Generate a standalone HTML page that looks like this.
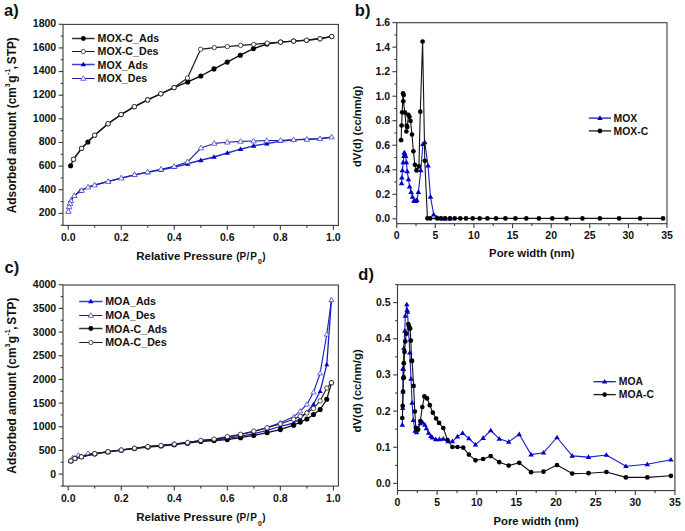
<!DOCTYPE html>
<html><head><meta charset="utf-8"><title>Figure</title>
<style>
html,body{margin:0;padding:0;background:#fff;width:685px;height:531px;overflow:hidden}
svg{display:block}
svg text{font-family:"Liberation Sans", sans-serif;font-weight:bold;fill:#111}
</style></head><body>
<svg width="685" height="531" viewBox="0 0 685 531">
<rect width="685" height="531" fill="#fff"/>
<rect x="63" y="24.4" width="275.4" height="201" fill="none" stroke="#3a3a3a" stroke-width="1.1"/>
<line x1="68.2" y1="225.4" x2="68.2" y2="229.7" stroke="#3a3a3a" stroke-width="1.1"/>
<line x1="121.24" y1="225.4" x2="121.24" y2="229.7" stroke="#3a3a3a" stroke-width="1.1"/>
<line x1="174.28" y1="225.4" x2="174.28" y2="229.7" stroke="#3a3a3a" stroke-width="1.1"/>
<line x1="227.32" y1="225.4" x2="227.32" y2="229.7" stroke="#3a3a3a" stroke-width="1.1"/>
<line x1="280.36" y1="225.4" x2="280.36" y2="229.7" stroke="#3a3a3a" stroke-width="1.1"/>
<line x1="333.4" y1="225.4" x2="333.4" y2="229.7" stroke="#3a3a3a" stroke-width="1.1"/>
<line x1="94.72" y1="225.4" x2="94.72" y2="227.7" stroke="#3a3a3a" stroke-width="1.1"/>
<line x1="147.76" y1="225.4" x2="147.76" y2="227.7" stroke="#3a3a3a" stroke-width="1.1"/>
<line x1="200.8" y1="225.4" x2="200.8" y2="227.7" stroke="#3a3a3a" stroke-width="1.1"/>
<line x1="253.84" y1="225.4" x2="253.84" y2="227.7" stroke="#3a3a3a" stroke-width="1.1"/>
<line x1="306.88" y1="225.4" x2="306.88" y2="227.7" stroke="#3a3a3a" stroke-width="1.1"/>
<line x1="58.7" y1="213.4" x2="63" y2="213.4" stroke="#3a3a3a" stroke-width="1.1"/>
<line x1="58.7" y1="189.76" x2="63" y2="189.76" stroke="#3a3a3a" stroke-width="1.1"/>
<line x1="58.7" y1="166.12" x2="63" y2="166.12" stroke="#3a3a3a" stroke-width="1.1"/>
<line x1="58.7" y1="142.49" x2="63" y2="142.49" stroke="#3a3a3a" stroke-width="1.1"/>
<line x1="58.7" y1="118.85" x2="63" y2="118.85" stroke="#3a3a3a" stroke-width="1.1"/>
<line x1="58.7" y1="95.21" x2="63" y2="95.21" stroke="#3a3a3a" stroke-width="1.1"/>
<line x1="58.7" y1="71.57" x2="63" y2="71.57" stroke="#3a3a3a" stroke-width="1.1"/>
<line x1="58.7" y1="47.93" x2="63" y2="47.93" stroke="#3a3a3a" stroke-width="1.1"/>
<line x1="58.7" y1="24.3" x2="63" y2="24.3" stroke="#3a3a3a" stroke-width="1.1"/>
<line x1="60.7" y1="225.22" x2="63" y2="225.22" stroke="#3a3a3a" stroke-width="1.1"/>
<line x1="60.7" y1="201.58" x2="63" y2="201.58" stroke="#3a3a3a" stroke-width="1.1"/>
<line x1="60.7" y1="177.94" x2="63" y2="177.94" stroke="#3a3a3a" stroke-width="1.1"/>
<line x1="60.7" y1="154.31" x2="63" y2="154.31" stroke="#3a3a3a" stroke-width="1.1"/>
<line x1="60.7" y1="130.67" x2="63" y2="130.67" stroke="#3a3a3a" stroke-width="1.1"/>
<line x1="60.7" y1="107.03" x2="63" y2="107.03" stroke="#3a3a3a" stroke-width="1.1"/>
<line x1="60.7" y1="83.39" x2="63" y2="83.39" stroke="#3a3a3a" stroke-width="1.1"/>
<line x1="60.7" y1="59.75" x2="63" y2="59.75" stroke="#3a3a3a" stroke-width="1.1"/>
<line x1="60.7" y1="36.12" x2="63" y2="36.12" stroke="#3a3a3a" stroke-width="1.1"/>
<text x="68.2" y="240.7" font-size="10.5" text-anchor="middle" >0.0</text>
<text x="121.24" y="240.7" font-size="10.5" text-anchor="middle" >0.2</text>
<text x="174.28" y="240.7" font-size="10.5" text-anchor="middle" >0.4</text>
<text x="227.32" y="240.7" font-size="10.5" text-anchor="middle" >0.6</text>
<text x="280.36" y="240.7" font-size="10.5" text-anchor="middle" >0.8</text>
<text x="333.4" y="240.7" font-size="10.5" text-anchor="middle" >1.0</text>
<text x="56.2" y="216.2" font-size="10.5" text-anchor="end" >200</text>
<text x="56.2" y="192.56" font-size="10.5" text-anchor="end" >400</text>
<text x="56.2" y="168.92" font-size="10.5" text-anchor="end" >600</text>
<text x="56.2" y="145.29" font-size="10.5" text-anchor="end" >800</text>
<text x="56.2" y="121.65" font-size="10.5" text-anchor="end" >1000</text>
<text x="56.2" y="98.01" font-size="10.5" text-anchor="end" >1200</text>
<text x="56.2" y="74.37" font-size="10.5" text-anchor="end" >1400</text>
<text x="56.2" y="50.73" font-size="10.5" text-anchor="end" >1600</text>
<text x="56.2" y="27.1" font-size="10.5" text-anchor="end" >1800</text>
<g>
<polyline points="68.4,211.4 69.2,206.9 70,203.5 70.9,200.7 74.3,195.6 80,191.2 81.6,190.4 88,187.2 94.6,185 108.3,181.4 121.5,178.1 134.5,174.9 147.7,172.4 161,169.8 174.2,167.2 187.6,163.8 200.8,160.3 214,157 227.3,153 240.5,149.2 253.6,145.9 266.8,143.6 280.3,141.2 293.6,139.9 306.8,139.3 320,138.8 331.7,137.1" fill="none" stroke="#2a2ac8" stroke-width="1.4" stroke-linejoin="round"/>
<polygon points="68.4,208.59 71.15,213.27 65.65,213.27" fill="#0000c8"/>
<polygon points="69.2,204.09 71.95,208.77 66.45,208.77" fill="#0000c8"/>
<polygon points="70,200.69 72.75,205.37 67.25,205.37" fill="#0000c8"/>
<polygon points="70.9,197.89 73.65,202.57 68.15,202.57" fill="#0000c8"/>
<polygon points="74.3,192.79 77.05,197.47 71.55,197.47" fill="#0000c8"/>
<polygon points="80,188.39 82.75,193.07 77.25,193.07" fill="#0000c8"/>
<polygon points="81.6,187.59 84.35,192.27 78.85,192.27" fill="#0000c8"/>
<polygon points="88,184.39 90.75,189.07 85.25,189.07" fill="#0000c8"/>
<polygon points="94.6,182.19 97.35,186.87 91.85,186.87" fill="#0000c8"/>
<polygon points="108.3,178.59 111.05,183.27 105.55,183.27" fill="#0000c8"/>
<polygon points="121.5,175.29 124.25,179.97 118.75,179.97" fill="#0000c8"/>
<polygon points="134.5,172.09 137.25,176.77 131.75,176.77" fill="#0000c8"/>
<polygon points="147.7,169.59 150.45,174.27 144.95,174.27" fill="#0000c8"/>
<polygon points="161,167 163.75,171.67 158.25,171.67" fill="#0000c8"/>
<polygon points="174.2,164.39 176.95,169.07 171.45,169.07" fill="#0000c8"/>
<polygon points="187.6,161 190.35,165.67 184.85,165.67" fill="#0000c8"/>
<polygon points="200.8,157.5 203.55,162.17 198.05,162.17" fill="#0000c8"/>
<polygon points="214,154.19 216.75,158.87 211.25,158.87" fill="#0000c8"/>
<polygon points="227.3,150.19 230.05,154.87 224.55,154.87" fill="#0000c8"/>
<polygon points="240.5,146.39 243.25,151.07 237.75,151.07" fill="#0000c8"/>
<polygon points="253.6,143.09 256.35,147.77 250.85,147.77" fill="#0000c8"/>
<polygon points="266.8,140.79 269.55,145.47 264.05,145.47" fill="#0000c8"/>
<polygon points="280.3,138.39 283.05,143.07 277.55,143.07" fill="#0000c8"/>
<polygon points="293.6,137.09 296.35,141.77 290.85,141.77" fill="#0000c8"/>
<polygon points="306.8,136.5 309.55,141.17 304.05,141.17" fill="#0000c8"/>
<polygon points="320,136 322.75,140.67 317.25,140.67" fill="#0000c8"/>
<polygon points="331.7,134.29 334.45,138.97 328.95,138.97" fill="#0000c8"/>
<polyline points="331.7,137.1 320,138.8 306.9,139.3 293.6,139.7 280.5,140.4 266.8,140.6 253.6,141 240.5,141.4 227.3,142.2 214.2,143.4 201,148 187.6,161.8 174.2,166.4 161,169.2 147.7,172 134.5,174.7 121.2,178.1 108.2,181.5 94.6,185.1 88,187.1 81.6,190.5 74.3,195.6 70.9,200.7 70,203.5 69.2,206.9 68.4,211.4" fill="none" stroke="#2020b0" stroke-width="1.1" stroke-linejoin="round"/>
<polygon points="331.7,134.29 334.45,138.97 328.95,138.97" fill="#fff" stroke="#4a4ad0" stroke-width="0.8"/>
<polygon points="320,136 322.75,140.67 317.25,140.67" fill="#fff" stroke="#4a4ad0" stroke-width="0.8"/>
<polygon points="306.9,136.5 309.65,141.17 304.15,141.17" fill="#fff" stroke="#4a4ad0" stroke-width="0.8"/>
<polygon points="293.6,136.89 296.35,141.57 290.85,141.57" fill="#fff" stroke="#4a4ad0" stroke-width="0.8"/>
<polygon points="280.5,137.59 283.25,142.27 277.75,142.27" fill="#fff" stroke="#4a4ad0" stroke-width="0.8"/>
<polygon points="266.8,137.79 269.55,142.47 264.05,142.47" fill="#fff" stroke="#4a4ad0" stroke-width="0.8"/>
<polygon points="253.6,138.19 256.35,142.87 250.85,142.87" fill="#fff" stroke="#4a4ad0" stroke-width="0.8"/>
<polygon points="240.5,138.59 243.25,143.27 237.75,143.27" fill="#fff" stroke="#4a4ad0" stroke-width="0.8"/>
<polygon points="227.3,139.39 230.05,144.07 224.55,144.07" fill="#fff" stroke="#4a4ad0" stroke-width="0.8"/>
<polygon points="214.2,140.59 216.95,145.27 211.45,145.27" fill="#fff" stroke="#4a4ad0" stroke-width="0.8"/>
<polygon points="201,145.19 203.75,149.87 198.25,149.87" fill="#fff" stroke="#4a4ad0" stroke-width="0.8"/>
<polygon points="187.6,159 190.35,163.67 184.85,163.67" fill="#fff" stroke="#4a4ad0" stroke-width="0.8"/>
<polygon points="174.2,163.59 176.95,168.27 171.45,168.27" fill="#fff" stroke="#4a4ad0" stroke-width="0.8"/>
<polygon points="161,166.39 163.75,171.07 158.25,171.07" fill="#fff" stroke="#4a4ad0" stroke-width="0.8"/>
<polygon points="147.7,169.19 150.45,173.87 144.95,173.87" fill="#fff" stroke="#4a4ad0" stroke-width="0.8"/>
<polygon points="134.5,171.89 137.25,176.57 131.75,176.57" fill="#fff" stroke="#4a4ad0" stroke-width="0.8"/>
<polygon points="121.2,175.29 123.95,179.97 118.45,179.97" fill="#fff" stroke="#4a4ad0" stroke-width="0.8"/>
<polygon points="108.2,178.69 110.95,183.37 105.45,183.37" fill="#fff" stroke="#4a4ad0" stroke-width="0.8"/>
<polygon points="94.6,182.29 97.35,186.97 91.85,186.97" fill="#fff" stroke="#4a4ad0" stroke-width="0.8"/>
<polygon points="88,184.29 90.75,188.97 85.25,188.97" fill="#fff" stroke="#4a4ad0" stroke-width="0.8"/>
<polygon points="81.6,187.69 84.35,192.37 78.85,192.37" fill="#fff" stroke="#4a4ad0" stroke-width="0.8"/>
<polygon points="74.3,192.79 77.05,197.47 71.55,197.47" fill="#fff" stroke="#4a4ad0" stroke-width="0.8"/>
<polygon points="70.9,197.89 73.65,202.57 68.15,202.57" fill="#fff" stroke="#4a4ad0" stroke-width="0.8"/>
<polygon points="70,200.69 72.75,205.37 67.25,205.37" fill="#fff" stroke="#4a4ad0" stroke-width="0.8"/>
<polygon points="69.2,204.09 71.95,208.77 66.45,208.77" fill="#fff" stroke="#4a4ad0" stroke-width="0.8"/>
<polygon points="68.4,208.59 71.15,213.27 65.65,213.27" fill="#fff" stroke="#4a4ad0" stroke-width="0.8"/>
<polyline points="70.6,165.7 73.5,159.3 81.5,148.4 87.9,142 94.6,135.3 108,123.7 121.1,114.6 134.3,106.7 147.6,99.9 160.9,93.7 174.1,87.6 187.7,81.9 200.8,76 214,68.9 227.2,62.1 240.3,55.2 253.5,48.6 266.9,44 280.5,42.1 293.6,41.1 306.7,40.2 320,38.7 331.7,36.5" fill="none" stroke="#111" stroke-width="1.4" stroke-linejoin="round"/>
<circle cx="70.6" cy="165.7" r="2.55" fill="#000"/>
<circle cx="73.5" cy="159.3" r="2.55" fill="#000"/>
<circle cx="81.5" cy="148.4" r="2.55" fill="#000"/>
<circle cx="87.9" cy="142" r="2.55" fill="#000"/>
<circle cx="94.6" cy="135.3" r="2.55" fill="#000"/>
<circle cx="108" cy="123.7" r="2.55" fill="#000"/>
<circle cx="121.1" cy="114.6" r="2.55" fill="#000"/>
<circle cx="134.3" cy="106.7" r="2.55" fill="#000"/>
<circle cx="147.6" cy="99.9" r="2.55" fill="#000"/>
<circle cx="160.9" cy="93.7" r="2.55" fill="#000"/>
<circle cx="174.1" cy="87.6" r="2.55" fill="#000"/>
<circle cx="187.7" cy="81.9" r="2.55" fill="#000"/>
<circle cx="200.8" cy="76" r="2.55" fill="#000"/>
<circle cx="214" cy="68.9" r="2.55" fill="#000"/>
<circle cx="227.2" cy="62.1" r="2.55" fill="#000"/>
<circle cx="240.3" cy="55.2" r="2.55" fill="#000"/>
<circle cx="253.5" cy="48.6" r="2.55" fill="#000"/>
<circle cx="266.9" cy="44" r="2.55" fill="#000"/>
<circle cx="280.5" cy="42.1" r="2.55" fill="#000"/>
<circle cx="293.6" cy="41.1" r="2.55" fill="#000"/>
<circle cx="306.7" cy="40.2" r="2.55" fill="#000"/>
<circle cx="320" cy="38.7" r="2.55" fill="#000"/>
<circle cx="331.7" cy="36.5" r="2.55" fill="#000"/>
<polyline points="331.7,36.5 320,38.7 306.6,40.2 293.6,41.1 280.5,42.1 267.1,43.1 253.7,44.4 240.6,45.4 227.4,46.6 214.3,47.6 200.6,49.3 187.5,78 174.1,87.6 160.9,93.8 147.7,99.9 134.4,106.7 121.1,114.5 108.1,123.8 94.6,135.2 81.6,148.4 73.5,159.3" fill="none" stroke="#1a1a1a" stroke-width="1.2" stroke-linejoin="round"/>
<circle cx="331.7" cy="36.5" r="2.1999999999999997" fill="#fff" stroke="#222" stroke-width="0.8"/>
<circle cx="320" cy="38.7" r="2.1999999999999997" fill="#fff" stroke="#222" stroke-width="0.8"/>
<circle cx="306.6" cy="40.2" r="2.1999999999999997" fill="#fff" stroke="#222" stroke-width="0.8"/>
<circle cx="293.6" cy="41.1" r="2.1999999999999997" fill="#fff" stroke="#222" stroke-width="0.8"/>
<circle cx="280.5" cy="42.1" r="2.1999999999999997" fill="#fff" stroke="#222" stroke-width="0.8"/>
<circle cx="267.1" cy="43.1" r="2.1999999999999997" fill="#fff" stroke="#222" stroke-width="0.8"/>
<circle cx="253.7" cy="44.4" r="2.1999999999999997" fill="#fff" stroke="#222" stroke-width="0.8"/>
<circle cx="240.6" cy="45.4" r="2.1999999999999997" fill="#fff" stroke="#222" stroke-width="0.8"/>
<circle cx="227.4" cy="46.6" r="2.1999999999999997" fill="#fff" stroke="#222" stroke-width="0.8"/>
<circle cx="214.3" cy="47.6" r="2.1999999999999997" fill="#fff" stroke="#222" stroke-width="0.8"/>
<circle cx="200.6" cy="49.3" r="2.1999999999999997" fill="#fff" stroke="#222" stroke-width="0.8"/>
<circle cx="187.5" cy="78" r="2.1999999999999997" fill="#fff" stroke="#222" stroke-width="0.8"/>
<circle cx="174.1" cy="87.6" r="2.1999999999999997" fill="#fff" stroke="#222" stroke-width="0.8"/>
<circle cx="160.9" cy="93.8" r="2.1999999999999997" fill="#fff" stroke="#222" stroke-width="0.8"/>
<circle cx="147.7" cy="99.9" r="2.1999999999999997" fill="#fff" stroke="#222" stroke-width="0.8"/>
<circle cx="134.4" cy="106.7" r="2.1999999999999997" fill="#fff" stroke="#222" stroke-width="0.8"/>
<circle cx="121.1" cy="114.5" r="2.1999999999999997" fill="#fff" stroke="#222" stroke-width="0.8"/>
<circle cx="108.1" cy="123.8" r="2.1999999999999997" fill="#fff" stroke="#222" stroke-width="0.8"/>
<circle cx="94.6" cy="135.2" r="2.1999999999999997" fill="#fff" stroke="#222" stroke-width="0.8"/>
<circle cx="81.6" cy="148.4" r="2.1999999999999997" fill="#fff" stroke="#222" stroke-width="0.8"/>
<circle cx="73.5" cy="159.3" r="2.1999999999999997" fill="#fff" stroke="#222" stroke-width="0.8"/>
</g>
<line x1="72.1" y1="38.5" x2="94.6" y2="38.5" stroke="#333" stroke-width="1.5"/>
<circle cx="83.35" cy="38.5" r="2.45" fill="#000"/>
<text x="97.6" y="41.9" font-size="10.65" text-anchor="start" >MOX-C_Ads</text>
<line x1="72.1" y1="51.5" x2="94.6" y2="51.5" stroke="#1a1a1a" stroke-width="1.0"/>
<circle cx="83.35" cy="51.5" r="2.1" fill="#fff" stroke="#222" stroke-width="0.8"/>
<text x="97.6" y="55.1" font-size="10.65" text-anchor="start" >MOX-C_Des</text>
<line x1="72.1" y1="64.5" x2="94.6" y2="64.5" stroke="#3c3cd0" stroke-width="1.5"/>
<polygon points="83.35,61.75 86.05,66.34 80.65,66.34" fill="#0000c8"/>
<text x="97.6" y="68.6" font-size="10.65" text-anchor="start" >MOX_Ads</text>
<line x1="72.1" y1="78.5" x2="94.6" y2="78.5" stroke="#1c1c98" stroke-width="1.0"/>
<polygon points="83.35,75.75 86.05,80.34 80.65,80.34" fill="#fff" stroke="#4a4ad0" stroke-width="0.8"/>
<text x="97.6" y="81.8" font-size="10.65" text-anchor="start" >MOX_Des</text>
<text y="259.7" font-size="11.5"><tspan x="136.2">Relative Pressure</tspan><tspan x="236.3" font-size="10">(</tspan><tspan x="239.4" font-size="10">P</tspan><tspan x="246.4" font-size="10">/</tspan><tspan x="250.3" font-size="10">P</tspan><tspan x="257.9" font-size="7" dy="4.6">0</tspan><tspan x="262.3" font-size="10" dy="-4.6">)</tspan></text>
<text transform="translate(15.6,213.3) rotate(-90)" font-size="11.9"><tspan x="0">Adsorbed amount (cm</tspan><tspan x="126.1" font-size="7" dy="-5.4">3</tspan><tspan x="130.5" dy="5.4">g</tspan><tspan x="138.2" font-size="7" dy="-5.4">-1</tspan><tspan x="144" dy="5.4">,</tspan><tspan x="149">STP)</tspan></text>
<text x="4" y="15.8" font-size="16.5" text-anchor="start" >a)</text>
<rect x="396.7" y="22.7" width="270.3" height="201" fill="none" stroke="#3a3a3a" stroke-width="1.1"/>
<line x1="396.7" y1="223.7" x2="396.7" y2="228" stroke="#3a3a3a" stroke-width="1.1"/>
<line x1="435.31" y1="223.7" x2="435.31" y2="228" stroke="#3a3a3a" stroke-width="1.1"/>
<line x1="473.93" y1="223.7" x2="473.93" y2="228" stroke="#3a3a3a" stroke-width="1.1"/>
<line x1="512.54" y1="223.7" x2="512.54" y2="228" stroke="#3a3a3a" stroke-width="1.1"/>
<line x1="551.16" y1="223.7" x2="551.16" y2="228" stroke="#3a3a3a" stroke-width="1.1"/>
<line x1="589.77" y1="223.7" x2="589.77" y2="228" stroke="#3a3a3a" stroke-width="1.1"/>
<line x1="628.39" y1="223.7" x2="628.39" y2="228" stroke="#3a3a3a" stroke-width="1.1"/>
<line x1="667" y1="223.7" x2="667" y2="228" stroke="#3a3a3a" stroke-width="1.1"/>
<line x1="416.01" y1="223.7" x2="416.01" y2="226" stroke="#3a3a3a" stroke-width="1.1"/>
<line x1="454.62" y1="223.7" x2="454.62" y2="226" stroke="#3a3a3a" stroke-width="1.1"/>
<line x1="493.24" y1="223.7" x2="493.24" y2="226" stroke="#3a3a3a" stroke-width="1.1"/>
<line x1="531.85" y1="223.7" x2="531.85" y2="226" stroke="#3a3a3a" stroke-width="1.1"/>
<line x1="570.47" y1="223.7" x2="570.47" y2="226" stroke="#3a3a3a" stroke-width="1.1"/>
<line x1="609.08" y1="223.7" x2="609.08" y2="226" stroke="#3a3a3a" stroke-width="1.1"/>
<line x1="647.7" y1="223.7" x2="647.7" y2="226" stroke="#3a3a3a" stroke-width="1.1"/>
<line x1="392.4" y1="218.8" x2="396.7" y2="218.8" stroke="#3a3a3a" stroke-width="1.1"/>
<line x1="392.4" y1="194.28" x2="396.7" y2="194.28" stroke="#3a3a3a" stroke-width="1.1"/>
<line x1="392.4" y1="169.76" x2="396.7" y2="169.76" stroke="#3a3a3a" stroke-width="1.1"/>
<line x1="392.4" y1="145.24" x2="396.7" y2="145.24" stroke="#3a3a3a" stroke-width="1.1"/>
<line x1="392.4" y1="120.72" x2="396.7" y2="120.72" stroke="#3a3a3a" stroke-width="1.1"/>
<line x1="392.4" y1="96.2" x2="396.7" y2="96.2" stroke="#3a3a3a" stroke-width="1.1"/>
<line x1="392.4" y1="71.68" x2="396.7" y2="71.68" stroke="#3a3a3a" stroke-width="1.1"/>
<line x1="392.4" y1="47.16" x2="396.7" y2="47.16" stroke="#3a3a3a" stroke-width="1.1"/>
<line x1="392.4" y1="22.64" x2="396.7" y2="22.64" stroke="#3a3a3a" stroke-width="1.1"/>
<line x1="394.4" y1="206.54" x2="396.7" y2="206.54" stroke="#3a3a3a" stroke-width="1.1"/>
<line x1="394.4" y1="182.02" x2="396.7" y2="182.02" stroke="#3a3a3a" stroke-width="1.1"/>
<line x1="394.4" y1="157.5" x2="396.7" y2="157.5" stroke="#3a3a3a" stroke-width="1.1"/>
<line x1="394.4" y1="132.98" x2="396.7" y2="132.98" stroke="#3a3a3a" stroke-width="1.1"/>
<line x1="394.4" y1="108.46" x2="396.7" y2="108.46" stroke="#3a3a3a" stroke-width="1.1"/>
<line x1="394.4" y1="83.94" x2="396.7" y2="83.94" stroke="#3a3a3a" stroke-width="1.1"/>
<line x1="394.4" y1="59.42" x2="396.7" y2="59.42" stroke="#3a3a3a" stroke-width="1.1"/>
<line x1="394.4" y1="34.9" x2="396.7" y2="34.9" stroke="#3a3a3a" stroke-width="1.1"/>
<text x="396.7" y="238.6" font-size="10.5" text-anchor="middle" >0</text>
<text x="435.31" y="238.6" font-size="10.5" text-anchor="middle" >5</text>
<text x="473.93" y="238.6" font-size="10.5" text-anchor="middle" >10</text>
<text x="512.54" y="238.6" font-size="10.5" text-anchor="middle" >15</text>
<text x="551.16" y="238.6" font-size="10.5" text-anchor="middle" >20</text>
<text x="589.77" y="238.6" font-size="10.5" text-anchor="middle" >25</text>
<text x="628.39" y="238.6" font-size="10.5" text-anchor="middle" >30</text>
<text x="667" y="238.6" font-size="10.5" text-anchor="middle" >35</text>
<text x="390.2" y="222.15" font-size="10.5" text-anchor="end" >0.0</text>
<text x="390.2" y="197.63" font-size="10.5" text-anchor="end" >0.2</text>
<text x="390.2" y="173.11" font-size="10.5" text-anchor="end" >0.4</text>
<text x="390.2" y="148.59" font-size="10.5" text-anchor="end" >0.6</text>
<text x="390.2" y="124.07" font-size="10.5" text-anchor="end" >0.8</text>
<text x="390.2" y="99.55" font-size="10.5" text-anchor="end" >1.0</text>
<text x="390.2" y="75.03" font-size="10.5" text-anchor="end" >1.2</text>
<text x="390.2" y="50.51" font-size="10.5" text-anchor="end" >1.4</text>
<text x="390.2" y="25.99" font-size="10.5" text-anchor="end" >1.6</text>
<polyline points="401.6,183.3 401.9,177.7 402.4,170.4 403.2,162.4 404,156 404.3,152.7 404.8,153.6 405.6,156 406.4,162.4 407.2,171.3 408.5,179.3 409.6,186.5 411.2,192.1 412.5,196.9 413.9,200.9 415.6,201.2 416.8,200.1 418.4,192.1 420.8,170.4 422.9,144 424.8,142.4 428,165.6 430.5,196.9 433.7,214.5 436.9,217.7 441,218.4 445,218.5 450,218.6" fill="none" stroke="#1a1ad0" stroke-width="1.1" stroke-linejoin="round"/>
<polygon points="401.6,180.44 404.4,185.2 398.8,185.2" fill="#0000c8"/>
<polygon points="401.9,174.84 404.7,179.6 399.1,179.6" fill="#0000c8"/>
<polygon points="402.4,167.54 405.2,172.3 399.6,172.3" fill="#0000c8"/>
<polygon points="403.2,159.54 406,164.3 400.4,164.3" fill="#0000c8"/>
<polygon points="404,153.14 406.8,157.9 401.2,157.9" fill="#0000c8"/>
<polygon points="404.3,149.84 407.1,154.6 401.5,154.6" fill="#0000c8"/>
<polygon points="404.8,150.74 407.6,155.5 402,155.5" fill="#0000c8"/>
<polygon points="405.6,153.14 408.4,157.9 402.8,157.9" fill="#0000c8"/>
<polygon points="406.4,159.54 409.2,164.3 403.6,164.3" fill="#0000c8"/>
<polygon points="407.2,168.44 410,173.2 404.4,173.2" fill="#0000c8"/>
<polygon points="408.5,176.44 411.3,181.2 405.7,181.2" fill="#0000c8"/>
<polygon points="409.6,183.64 412.4,188.4 406.8,188.4" fill="#0000c8"/>
<polygon points="411.2,189.24 414,194 408.4,194" fill="#0000c8"/>
<polygon points="412.5,194.04 415.3,198.8 409.7,198.8" fill="#0000c8"/>
<polygon points="413.9,198.04 416.7,202.8 411.1,202.8" fill="#0000c8"/>
<polygon points="415.6,198.34 418.4,203.1 412.8,203.1" fill="#0000c8"/>
<polygon points="416.8,197.24 419.6,202 414,202" fill="#0000c8"/>
<polygon points="418.4,189.24 421.2,194 415.6,194" fill="#0000c8"/>
<polygon points="420.8,167.54 423.6,172.3 418,172.3" fill="#0000c8"/>
<polygon points="422.9,141.14 425.7,145.9 420.1,145.9" fill="#0000c8"/>
<polygon points="424.8,139.54 427.6,144.3 422,144.3" fill="#0000c8"/>
<polygon points="428,162.74 430.8,167.5 425.2,167.5" fill="#0000c8"/>
<polygon points="430.5,194.04 433.3,198.8 427.7,198.8" fill="#0000c8"/>
<polygon points="433.7,211.64 436.5,216.4 430.9,216.4" fill="#0000c8"/>
<polygon points="436.9,214.84 439.7,219.6 434.1,219.6" fill="#0000c8"/>
<polygon points="441,215.54 443.8,220.3 438.2,220.3" fill="#0000c8"/>
<polygon points="445,215.64 447.8,220.4 442.2,220.4" fill="#0000c8"/>
<polygon points="450,215.74 452.8,220.5 447.2,220.5" fill="#0000c8"/>
<polyline points="401.1,140.2 401.6,125.5 402.2,112.3 403,93.4 403.7,95 403.3,101.3 405,112.6 406.4,131.5 406.7,125.8 407.3,127 408.4,114.9 409.5,116.8 410.5,121 412,134.5 413.4,151.3 414.9,164.8 416.5,170.4 418.9,166.4 420.3,111.7 422.6,41.5 424.8,160.8 427.4,218.3 430.2,218.4 437.4,218.4 441,218.4 445.1,218.4 450,218.4 454.7,218.4 460.3,218.4 466,218.4 472.7,218.4 479.7,218.4 487.4,218.4 496,218.4 505.4,218.4 515.4,218.4 526.3,218.4 538.9,218.4 552.3,218.4 566.6,218.4 582.5,218.4 599.9,218.4 619.1,218.4 640.1,218.4 663,218.4" fill="none" stroke="#111" stroke-width="1.1" stroke-linejoin="round"/>
<circle cx="401.1" cy="140.2" r="2.35" fill="#000"/>
<circle cx="401.6" cy="125.5" r="2.35" fill="#000"/>
<circle cx="402.2" cy="112.3" r="2.35" fill="#000"/>
<circle cx="403" cy="93.4" r="2.35" fill="#000"/>
<circle cx="403.7" cy="95" r="2.35" fill="#000"/>
<circle cx="403.3" cy="101.3" r="2.35" fill="#000"/>
<circle cx="405" cy="112.6" r="2.35" fill="#000"/>
<circle cx="406.4" cy="131.5" r="2.35" fill="#000"/>
<circle cx="406.7" cy="125.8" r="2.35" fill="#000"/>
<circle cx="407.3" cy="127" r="2.35" fill="#000"/>
<circle cx="408.4" cy="114.9" r="2.35" fill="#000"/>
<circle cx="409.5" cy="116.8" r="2.35" fill="#000"/>
<circle cx="410.5" cy="121" r="2.35" fill="#000"/>
<circle cx="412" cy="134.5" r="2.35" fill="#000"/>
<circle cx="413.4" cy="151.3" r="2.35" fill="#000"/>
<circle cx="414.9" cy="164.8" r="2.35" fill="#000"/>
<circle cx="416.5" cy="170.4" r="2.35" fill="#000"/>
<circle cx="418.9" cy="166.4" r="2.35" fill="#000"/>
<circle cx="420.3" cy="111.7" r="2.35" fill="#000"/>
<circle cx="422.6" cy="41.5" r="2.35" fill="#000"/>
<circle cx="424.8" cy="160.8" r="2.35" fill="#000"/>
<circle cx="427.4" cy="218.3" r="2.35" fill="#000"/>
<circle cx="430.2" cy="218.4" r="2.35" fill="#000"/>
<circle cx="437.4" cy="218.4" r="2.35" fill="#000"/>
<circle cx="441" cy="218.4" r="2.35" fill="#000"/>
<circle cx="445.1" cy="218.4" r="2.35" fill="#000"/>
<circle cx="450" cy="218.4" r="2.35" fill="#000"/>
<circle cx="454.7" cy="218.4" r="2.35" fill="#000"/>
<circle cx="460.3" cy="218.4" r="2.35" fill="#000"/>
<circle cx="466" cy="218.4" r="2.35" fill="#000"/>
<circle cx="472.7" cy="218.4" r="2.35" fill="#000"/>
<circle cx="479.7" cy="218.4" r="2.35" fill="#000"/>
<circle cx="487.4" cy="218.4" r="2.35" fill="#000"/>
<circle cx="496" cy="218.4" r="2.35" fill="#000"/>
<circle cx="505.4" cy="218.4" r="2.35" fill="#000"/>
<circle cx="515.4" cy="218.4" r="2.35" fill="#000"/>
<circle cx="526.3" cy="218.4" r="2.35" fill="#000"/>
<circle cx="538.9" cy="218.4" r="2.35" fill="#000"/>
<circle cx="552.3" cy="218.4" r="2.35" fill="#000"/>
<circle cx="566.6" cy="218.4" r="2.35" fill="#000"/>
<circle cx="582.5" cy="218.4" r="2.35" fill="#000"/>
<circle cx="599.9" cy="218.4" r="2.35" fill="#000"/>
<circle cx="619.1" cy="218.4" r="2.35" fill="#000"/>
<circle cx="640.1" cy="218.4" r="2.35" fill="#000"/>
<circle cx="663" cy="218.4" r="2.35" fill="#000"/>
<line x1="588.9" y1="118.1" x2="611" y2="118.1" stroke="#2424c4" stroke-width="1.35"/>
<polygon points="599.95,115.35 602.65,119.94 597.25,119.94" fill="#0000c8"/>
<text x="613.6" y="121.8" font-size="10.4" text-anchor="start" >MOX</text>
<line x1="588.9" y1="130.9" x2="611" y2="130.9" stroke="#222" stroke-width="1.35"/>
<circle cx="599.95" cy="130.9" r="2.3" fill="#000"/>
<text x="613.6" y="134.6" font-size="10.4" text-anchor="start" >MOX-C</text>
<text x="531.8" y="256.9" font-size="11.3" text-anchor="middle" >Pore width (nm)</text>
<text transform="translate(361.0,126.4) rotate(-90)" font-size="11.2" text-anchor="middle">dV(d) (cc/nm/g)</text>
<text x="354.8" y="15.8" font-size="16.5" text-anchor="start" >b)</text>
<rect x="63" y="285" width="275.4" height="201.1" fill="none" stroke="#3a3a3a" stroke-width="1.1"/>
<line x1="68.2" y1="486.1" x2="68.2" y2="490.4" stroke="#3a3a3a" stroke-width="1.1"/>
<line x1="121.24" y1="486.1" x2="121.24" y2="490.4" stroke="#3a3a3a" stroke-width="1.1"/>
<line x1="174.28" y1="486.1" x2="174.28" y2="490.4" stroke="#3a3a3a" stroke-width="1.1"/>
<line x1="227.32" y1="486.1" x2="227.32" y2="490.4" stroke="#3a3a3a" stroke-width="1.1"/>
<line x1="280.36" y1="486.1" x2="280.36" y2="490.4" stroke="#3a3a3a" stroke-width="1.1"/>
<line x1="333.4" y1="486.1" x2="333.4" y2="490.4" stroke="#3a3a3a" stroke-width="1.1"/>
<line x1="94.72" y1="486.1" x2="94.72" y2="488.4" stroke="#3a3a3a" stroke-width="1.1"/>
<line x1="147.76" y1="486.1" x2="147.76" y2="488.4" stroke="#3a3a3a" stroke-width="1.1"/>
<line x1="200.8" y1="486.1" x2="200.8" y2="488.4" stroke="#3a3a3a" stroke-width="1.1"/>
<line x1="253.84" y1="486.1" x2="253.84" y2="488.4" stroke="#3a3a3a" stroke-width="1.1"/>
<line x1="306.88" y1="486.1" x2="306.88" y2="488.4" stroke="#3a3a3a" stroke-width="1.1"/>
<line x1="58.7" y1="474.1" x2="63" y2="474.1" stroke="#3a3a3a" stroke-width="1.1"/>
<line x1="58.7" y1="450.44" x2="63" y2="450.44" stroke="#3a3a3a" stroke-width="1.1"/>
<line x1="58.7" y1="426.77" x2="63" y2="426.77" stroke="#3a3a3a" stroke-width="1.1"/>
<line x1="58.7" y1="403.11" x2="63" y2="403.11" stroke="#3a3a3a" stroke-width="1.1"/>
<line x1="58.7" y1="379.44" x2="63" y2="379.44" stroke="#3a3a3a" stroke-width="1.1"/>
<line x1="58.7" y1="355.78" x2="63" y2="355.78" stroke="#3a3a3a" stroke-width="1.1"/>
<line x1="58.7" y1="332.11" x2="63" y2="332.11" stroke="#3a3a3a" stroke-width="1.1"/>
<line x1="58.7" y1="308.45" x2="63" y2="308.45" stroke="#3a3a3a" stroke-width="1.1"/>
<line x1="58.7" y1="284.78" x2="63" y2="284.78" stroke="#3a3a3a" stroke-width="1.1"/>
<line x1="60.7" y1="485.93" x2="63" y2="485.93" stroke="#3a3a3a" stroke-width="1.1"/>
<line x1="60.7" y1="462.27" x2="63" y2="462.27" stroke="#3a3a3a" stroke-width="1.1"/>
<line x1="60.7" y1="438.6" x2="63" y2="438.6" stroke="#3a3a3a" stroke-width="1.1"/>
<line x1="60.7" y1="414.94" x2="63" y2="414.94" stroke="#3a3a3a" stroke-width="1.1"/>
<line x1="60.7" y1="391.27" x2="63" y2="391.27" stroke="#3a3a3a" stroke-width="1.1"/>
<line x1="60.7" y1="367.61" x2="63" y2="367.61" stroke="#3a3a3a" stroke-width="1.1"/>
<line x1="60.7" y1="343.94" x2="63" y2="343.94" stroke="#3a3a3a" stroke-width="1.1"/>
<line x1="60.7" y1="320.28" x2="63" y2="320.28" stroke="#3a3a3a" stroke-width="1.1"/>
<line x1="60.7" y1="296.61" x2="63" y2="296.61" stroke="#3a3a3a" stroke-width="1.1"/>
<text x="68.2" y="501.6" font-size="10.5" text-anchor="middle" >0.0</text>
<text x="121.24" y="501.6" font-size="10.5" text-anchor="middle" >0.2</text>
<text x="174.28" y="501.6" font-size="10.5" text-anchor="middle" >0.4</text>
<text x="227.32" y="501.6" font-size="10.5" text-anchor="middle" >0.6</text>
<text x="280.36" y="501.6" font-size="10.5" text-anchor="middle" >0.8</text>
<text x="333.4" y="501.6" font-size="10.5" text-anchor="middle" >1.0</text>
<text x="56.2" y="477.5" font-size="10.5" text-anchor="end" >0</text>
<text x="56.2" y="453.83" font-size="10.5" text-anchor="end" >500</text>
<text x="56.2" y="430.17" font-size="10.5" text-anchor="end" >1000</text>
<text x="56.2" y="406.5" font-size="10.5" text-anchor="end" >1500</text>
<text x="56.2" y="382.84" font-size="10.5" text-anchor="end" >2000</text>
<text x="56.2" y="359.18" font-size="10.5" text-anchor="end" >2500</text>
<text x="56.2" y="335.51" font-size="10.5" text-anchor="end" >3000</text>
<text x="56.2" y="311.85" font-size="10.5" text-anchor="end" >3500</text>
<text x="56.2" y="288.18" font-size="10.5" text-anchor="end" >4000</text>
<polyline points="70.85,460.9 74.83,458.4 81.46,456.8 94.72,453.7 107.98,451.7 121.24,450 134.5,448.2 147.76,446.6 161.02,445.5 174.28,444.1 187.54,442.5 200.8,441 214.06,440 227.32,438.4 240.58,436.4 253.84,433.6 267.1,430.3 280.36,426.5 293.62,423 300.25,418.6 306.88,412.3 313.51,404.2 320.14,391.3 326.77,364.6 331.41,300" fill="none" stroke="#1a1ad0" stroke-width="1.3" stroke-linejoin="round"/>
<polygon points="70.85,458.35 73.35,462.6 68.35,462.6" fill="#0000c8"/>
<polygon points="74.83,455.85 77.33,460.1 72.33,460.1" fill="#0000c8"/>
<polygon points="81.46,454.25 83.96,458.5 78.96,458.5" fill="#0000c8"/>
<polygon points="94.72,451.15 97.22,455.4 92.22,455.4" fill="#0000c8"/>
<polygon points="107.98,449.15 110.48,453.4 105.48,453.4" fill="#0000c8"/>
<polygon points="121.24,447.45 123.74,451.7 118.74,451.7" fill="#0000c8"/>
<polygon points="134.5,445.65 137,449.9 132,449.9" fill="#0000c8"/>
<polygon points="147.76,444.05 150.26,448.3 145.26,448.3" fill="#0000c8"/>
<polygon points="161.02,442.95 163.52,447.2 158.52,447.2" fill="#0000c8"/>
<polygon points="174.28,441.55 176.78,445.8 171.78,445.8" fill="#0000c8"/>
<polygon points="187.54,439.95 190.04,444.2 185.04,444.2" fill="#0000c8"/>
<polygon points="200.8,438.45 203.3,442.7 198.3,442.7" fill="#0000c8"/>
<polygon points="214.06,437.45 216.56,441.7 211.56,441.7" fill="#0000c8"/>
<polygon points="227.32,435.85 229.82,440.1 224.82,440.1" fill="#0000c8"/>
<polygon points="240.58,433.85 243.08,438.1 238.08,438.1" fill="#0000c8"/>
<polygon points="253.84,431.05 256.34,435.3 251.34,435.3" fill="#0000c8"/>
<polygon points="267.1,427.75 269.6,432 264.6,432" fill="#0000c8"/>
<polygon points="280.36,423.95 282.86,428.2 277.86,428.2" fill="#0000c8"/>
<polygon points="293.62,420.45 296.12,424.7 291.12,424.7" fill="#0000c8"/>
<polygon points="300.25,416.05 302.75,420.3 297.75,420.3" fill="#0000c8"/>
<polygon points="306.88,409.75 309.38,414 304.38,414" fill="#0000c8"/>
<polygon points="313.51,401.65 316.01,405.9 311.01,405.9" fill="#0000c8"/>
<polygon points="320.14,388.75 322.64,393 317.64,393" fill="#0000c8"/>
<polygon points="326.77,362.05 329.27,366.3 324.27,366.3" fill="#0000c8"/>
<polygon points="331.41,297.45 333.91,301.7 328.91,301.7" fill="#0000c8"/>
<polyline points="70.85,460.9 72.7,457.8 74.83,458.4 78.3,455.2 81.46,456.8 88,453.4 94.72,453.7 107.98,451.7 121.24,450 134.5,448.2 147.76,446.6 161.02,445.5 174.28,444.1 187.54,442.5 200.8,440.6 214.06,439.5 227.32,437.5 240.58,434.8 253.84,431.5 267.1,427.6 280.36,422.8 293.62,416.8 300.25,411.2 306.88,404.4 313.51,392.3 320.14,373.2 326.77,334.4 331.41,300" fill="none" stroke="#1a1ad0" stroke-width="1.1" stroke-linejoin="round"/>
<polygon points="70.85,458.35 73.35,462.6 68.35,462.6" fill="#fff" stroke="#4a4ad0" stroke-width="0.8"/>
<polygon points="72.7,455.25 75.2,459.5 70.2,459.5" fill="#fff" stroke="#4a4ad0" stroke-width="0.8"/>
<polygon points="74.83,455.85 77.33,460.1 72.33,460.1" fill="#fff" stroke="#4a4ad0" stroke-width="0.8"/>
<polygon points="78.3,452.65 80.8,456.9 75.8,456.9" fill="#fff" stroke="#4a4ad0" stroke-width="0.8"/>
<polygon points="81.46,454.25 83.96,458.5 78.96,458.5" fill="#fff" stroke="#4a4ad0" stroke-width="0.8"/>
<polygon points="88,450.85 90.5,455.1 85.5,455.1" fill="#fff" stroke="#4a4ad0" stroke-width="0.8"/>
<polygon points="94.72,451.15 97.22,455.4 92.22,455.4" fill="#fff" stroke="#4a4ad0" stroke-width="0.8"/>
<polygon points="107.98,449.15 110.48,453.4 105.48,453.4" fill="#fff" stroke="#4a4ad0" stroke-width="0.8"/>
<polygon points="121.24,447.45 123.74,451.7 118.74,451.7" fill="#fff" stroke="#4a4ad0" stroke-width="0.8"/>
<polygon points="134.5,445.65 137,449.9 132,449.9" fill="#fff" stroke="#4a4ad0" stroke-width="0.8"/>
<polygon points="147.76,444.05 150.26,448.3 145.26,448.3" fill="#fff" stroke="#4a4ad0" stroke-width="0.8"/>
<polygon points="161.02,442.95 163.52,447.2 158.52,447.2" fill="#fff" stroke="#4a4ad0" stroke-width="0.8"/>
<polygon points="174.28,441.55 176.78,445.8 171.78,445.8" fill="#fff" stroke="#4a4ad0" stroke-width="0.8"/>
<polygon points="187.54,439.95 190.04,444.2 185.04,444.2" fill="#fff" stroke="#4a4ad0" stroke-width="0.8"/>
<polygon points="200.8,438.05 203.3,442.3 198.3,442.3" fill="#fff" stroke="#4a4ad0" stroke-width="0.8"/>
<polygon points="214.06,436.95 216.56,441.2 211.56,441.2" fill="#fff" stroke="#4a4ad0" stroke-width="0.8"/>
<polygon points="227.32,434.95 229.82,439.2 224.82,439.2" fill="#fff" stroke="#4a4ad0" stroke-width="0.8"/>
<polygon points="240.58,432.25 243.08,436.5 238.08,436.5" fill="#fff" stroke="#4a4ad0" stroke-width="0.8"/>
<polygon points="253.84,428.95 256.34,433.2 251.34,433.2" fill="#fff" stroke="#4a4ad0" stroke-width="0.8"/>
<polygon points="267.1,425.05 269.6,429.3 264.6,429.3" fill="#fff" stroke="#4a4ad0" stroke-width="0.8"/>
<polygon points="280.36,420.25 282.86,424.5 277.86,424.5" fill="#fff" stroke="#4a4ad0" stroke-width="0.8"/>
<polygon points="293.62,414.25 296.12,418.5 291.12,418.5" fill="#fff" stroke="#4a4ad0" stroke-width="0.8"/>
<polygon points="300.25,408.65 302.75,412.9 297.75,412.9" fill="#fff" stroke="#4a4ad0" stroke-width="0.8"/>
<polygon points="306.88,401.85 309.38,406.1 304.38,406.1" fill="#fff" stroke="#4a4ad0" stroke-width="0.8"/>
<polygon points="313.51,389.75 316.01,394 311.01,394" fill="#fff" stroke="#4a4ad0" stroke-width="0.8"/>
<polygon points="320.14,370.65 322.64,374.9 317.64,374.9" fill="#fff" stroke="#4a4ad0" stroke-width="0.8"/>
<polygon points="326.77,331.85 329.27,336.1 324.27,336.1" fill="#fff" stroke="#4a4ad0" stroke-width="0.8"/>
<polygon points="331.41,297.45 333.91,301.7 328.91,301.7" fill="#fff" stroke="#4a4ad0" stroke-width="0.8"/>
<polyline points="70.85,460.9 74.83,458.4 81.46,456.8 94.72,453.9 107.98,451.9 121.24,450.2 134.5,448.6 147.76,447.1 161.02,446 174.28,444.7 187.54,443.2 200.8,441.4 214.06,440.6 227.32,439.6 240.58,437.7 253.84,435.4 267.1,432.7 280.36,429.6 293.62,425.2 300.25,422.1 306.88,419 313.51,414.5 320.14,409.5 326.77,399.3 331.41,382.7" fill="none" stroke="#111" stroke-width="1.3" stroke-linejoin="round"/>
<circle cx="70.85" cy="460.9" r="2.55" fill="#000"/>
<circle cx="74.83" cy="458.4" r="2.55" fill="#000"/>
<circle cx="81.46" cy="456.8" r="2.55" fill="#000"/>
<circle cx="94.72" cy="453.9" r="2.55" fill="#000"/>
<circle cx="107.98" cy="451.9" r="2.55" fill="#000"/>
<circle cx="121.24" cy="450.2" r="2.55" fill="#000"/>
<circle cx="134.5" cy="448.6" r="2.55" fill="#000"/>
<circle cx="147.76" cy="447.1" r="2.55" fill="#000"/>
<circle cx="161.02" cy="446" r="2.55" fill="#000"/>
<circle cx="174.28" cy="444.7" r="2.55" fill="#000"/>
<circle cx="187.54" cy="443.2" r="2.55" fill="#000"/>
<circle cx="200.8" cy="441.4" r="2.55" fill="#000"/>
<circle cx="214.06" cy="440.6" r="2.55" fill="#000"/>
<circle cx="227.32" cy="439.6" r="2.55" fill="#000"/>
<circle cx="240.58" cy="437.7" r="2.55" fill="#000"/>
<circle cx="253.84" cy="435.4" r="2.55" fill="#000"/>
<circle cx="267.1" cy="432.7" r="2.55" fill="#000"/>
<circle cx="280.36" cy="429.6" r="2.55" fill="#000"/>
<circle cx="293.62" cy="425.2" r="2.55" fill="#000"/>
<circle cx="300.25" cy="422.1" r="2.55" fill="#000"/>
<circle cx="306.88" cy="419" r="2.55" fill="#000"/>
<circle cx="313.51" cy="414.5" r="2.55" fill="#000"/>
<circle cx="320.14" cy="409.5" r="2.55" fill="#000"/>
<circle cx="326.77" cy="399.3" r="2.55" fill="#000"/>
<circle cx="331.41" cy="382.7" r="2.55" fill="#000"/>
<polyline points="70.85,460.9 74.83,458.4 81.46,456.8 94.72,453.7 107.98,451.7 121.24,450 134.5,448.2 147.76,446.6 161.02,445.5 174.28,444.1 187.54,442.5 200.8,440.4 214.06,439.1 227.32,436.6 240.58,434.3 253.84,431.1 267.1,427.8 280.36,423.9 293.62,419.3 300.25,416.3 306.88,413 313.51,408.5 320.14,400.9 326.77,388.1 331.41,382.7" fill="none" stroke="#222" stroke-width="1.1" stroke-linejoin="round"/>
<circle cx="70.85" cy="460.9" r="2.1999999999999997" fill="#fff" stroke="#222" stroke-width="0.8"/>
<circle cx="74.83" cy="458.4" r="2.1999999999999997" fill="#fff" stroke="#222" stroke-width="0.8"/>
<circle cx="81.46" cy="456.8" r="2.1999999999999997" fill="#fff" stroke="#222" stroke-width="0.8"/>
<circle cx="94.72" cy="453.7" r="2.1999999999999997" fill="#fff" stroke="#222" stroke-width="0.8"/>
<circle cx="107.98" cy="451.7" r="2.1999999999999997" fill="#fff" stroke="#222" stroke-width="0.8"/>
<circle cx="121.24" cy="450" r="2.1999999999999997" fill="#fff" stroke="#222" stroke-width="0.8"/>
<circle cx="134.5" cy="448.2" r="2.1999999999999997" fill="#fff" stroke="#222" stroke-width="0.8"/>
<circle cx="147.76" cy="446.6" r="2.1999999999999997" fill="#fff" stroke="#222" stroke-width="0.8"/>
<circle cx="161.02" cy="445.5" r="2.1999999999999997" fill="#fff" stroke="#222" stroke-width="0.8"/>
<circle cx="174.28" cy="444.1" r="2.1999999999999997" fill="#fff" stroke="#222" stroke-width="0.8"/>
<circle cx="187.54" cy="442.5" r="2.1999999999999997" fill="#fff" stroke="#222" stroke-width="0.8"/>
<circle cx="200.8" cy="440.4" r="2.1999999999999997" fill="#fff" stroke="#222" stroke-width="0.8"/>
<circle cx="214.06" cy="439.1" r="2.1999999999999997" fill="#fff" stroke="#222" stroke-width="0.8"/>
<circle cx="227.32" cy="436.6" r="2.1999999999999997" fill="#fff" stroke="#222" stroke-width="0.8"/>
<circle cx="240.58" cy="434.3" r="2.1999999999999997" fill="#fff" stroke="#222" stroke-width="0.8"/>
<circle cx="253.84" cy="431.1" r="2.1999999999999997" fill="#fff" stroke="#222" stroke-width="0.8"/>
<circle cx="267.1" cy="427.8" r="2.1999999999999997" fill="#fff" stroke="#222" stroke-width="0.8"/>
<circle cx="280.36" cy="423.9" r="2.1999999999999997" fill="#fff" stroke="#222" stroke-width="0.8"/>
<circle cx="293.62" cy="419.3" r="2.1999999999999997" fill="#fff" stroke="#222" stroke-width="0.8"/>
<circle cx="300.25" cy="416.3" r="2.1999999999999997" fill="#fff" stroke="#222" stroke-width="0.8"/>
<circle cx="306.88" cy="413" r="2.1999999999999997" fill="#fff" stroke="#222" stroke-width="0.8"/>
<circle cx="313.51" cy="408.5" r="2.1999999999999997" fill="#fff" stroke="#222" stroke-width="0.8"/>
<circle cx="320.14" cy="400.9" r="2.1999999999999997" fill="#fff" stroke="#222" stroke-width="0.8"/>
<circle cx="326.77" cy="388.1" r="2.1999999999999997" fill="#fff" stroke="#222" stroke-width="0.8"/>
<circle cx="331.41" cy="382.7" r="2.1999999999999997" fill="#fff" stroke="#222" stroke-width="0.8"/>
<line x1="79.2" y1="301.5" x2="102.5" y2="301.5" stroke="#3c3cd0" stroke-width="1.5"/>
<polygon points="90.85,298.75 93.55,303.34 88.15,303.34" fill="#0000c8"/>
<text x="105.2" y="305.4" font-size="10.65" text-anchor="start" >MOA_Ads</text>
<line x1="79.2" y1="315.5" x2="102.5" y2="315.5" stroke="#1c1c98" stroke-width="1.0"/>
<polygon points="90.85,312.75 93.55,317.34 88.15,317.34" fill="#fff" stroke="#4a4ad0" stroke-width="0.8"/>
<text x="105.2" y="319" font-size="10.65" text-anchor="start" >MOA_Des</text>
<line x1="79.2" y1="328.5" x2="102.5" y2="328.5" stroke="#333" stroke-width="1.5"/>
<circle cx="90.85" cy="328.5" r="2.45" fill="#000"/>
<text x="105.2" y="332.6" font-size="10.65" text-anchor="start" >MOA-C_Ads</text>
<line x1="79.2" y1="342.5" x2="102.5" y2="342.5" stroke="#1a1a1a" stroke-width="1.0"/>
<circle cx="90.85" cy="342.5" r="2.1" fill="#fff" stroke="#222" stroke-width="0.8"/>
<text x="105.2" y="346" font-size="10.65" text-anchor="start" >MOA-C_Des</text>
<text y="521.0" font-size="11.5"><tspan x="136.2">Relative Pressure</tspan><tspan x="236.3" font-size="10">(</tspan><tspan x="239.4" font-size="10">P</tspan><tspan x="246.4" font-size="10">/</tspan><tspan x="250.3" font-size="10">P</tspan><tspan x="257.9" font-size="7" dy="4.6">0</tspan><tspan x="262.3" font-size="10" dy="-4.6">)</tspan></text>
<text transform="translate(15.6,473.7) rotate(-90)" font-size="11.9"><tspan x="0">Adsorbed amount (cm</tspan><tspan x="126.1" font-size="7" dy="-5.4">3</tspan><tspan x="130.5" dy="5.4">g</tspan><tspan x="138.2" font-size="7" dy="-5.4">-1</tspan><tspan x="144" dy="5.4">,</tspan><tspan x="149">STP)</tspan></text>
<text x="4.5" y="272.8" font-size="16.5" text-anchor="start" >c)</text>
<rect x="397.5" y="284.7" width="277.4" height="205.9" fill="none" stroke="#3a3a3a" stroke-width="1.1"/>
<line x1="397.5" y1="490.6" x2="397.5" y2="494.9" stroke="#3a3a3a" stroke-width="1.1"/>
<line x1="437.13" y1="490.6" x2="437.13" y2="494.9" stroke="#3a3a3a" stroke-width="1.1"/>
<line x1="476.76" y1="490.6" x2="476.76" y2="494.9" stroke="#3a3a3a" stroke-width="1.1"/>
<line x1="516.39" y1="490.6" x2="516.39" y2="494.9" stroke="#3a3a3a" stroke-width="1.1"/>
<line x1="556.02" y1="490.6" x2="556.02" y2="494.9" stroke="#3a3a3a" stroke-width="1.1"/>
<line x1="595.65" y1="490.6" x2="595.65" y2="494.9" stroke="#3a3a3a" stroke-width="1.1"/>
<line x1="635.28" y1="490.6" x2="635.28" y2="494.9" stroke="#3a3a3a" stroke-width="1.1"/>
<line x1="674.91" y1="490.6" x2="674.91" y2="494.9" stroke="#3a3a3a" stroke-width="1.1"/>
<line x1="417.31" y1="490.6" x2="417.31" y2="492.9" stroke="#3a3a3a" stroke-width="1.1"/>
<line x1="456.94" y1="490.6" x2="456.94" y2="492.9" stroke="#3a3a3a" stroke-width="1.1"/>
<line x1="496.57" y1="490.6" x2="496.57" y2="492.9" stroke="#3a3a3a" stroke-width="1.1"/>
<line x1="536.21" y1="490.6" x2="536.21" y2="492.9" stroke="#3a3a3a" stroke-width="1.1"/>
<line x1="575.84" y1="490.6" x2="575.84" y2="492.9" stroke="#3a3a3a" stroke-width="1.1"/>
<line x1="615.47" y1="490.6" x2="615.47" y2="492.9" stroke="#3a3a3a" stroke-width="1.1"/>
<line x1="655.1" y1="490.6" x2="655.1" y2="492.9" stroke="#3a3a3a" stroke-width="1.1"/>
<line x1="393.2" y1="483.4" x2="397.5" y2="483.4" stroke="#3a3a3a" stroke-width="1.1"/>
<line x1="393.2" y1="447.24" x2="397.5" y2="447.24" stroke="#3a3a3a" stroke-width="1.1"/>
<line x1="393.2" y1="411.08" x2="397.5" y2="411.08" stroke="#3a3a3a" stroke-width="1.1"/>
<line x1="393.2" y1="374.92" x2="397.5" y2="374.92" stroke="#3a3a3a" stroke-width="1.1"/>
<line x1="393.2" y1="338.76" x2="397.5" y2="338.76" stroke="#3a3a3a" stroke-width="1.1"/>
<line x1="393.2" y1="302.6" x2="397.5" y2="302.6" stroke="#3a3a3a" stroke-width="1.1"/>
<line x1="395.2" y1="465.32" x2="397.5" y2="465.32" stroke="#3a3a3a" stroke-width="1.1"/>
<line x1="395.2" y1="429.16" x2="397.5" y2="429.16" stroke="#3a3a3a" stroke-width="1.1"/>
<line x1="395.2" y1="393" x2="397.5" y2="393" stroke="#3a3a3a" stroke-width="1.1"/>
<line x1="395.2" y1="356.84" x2="397.5" y2="356.84" stroke="#3a3a3a" stroke-width="1.1"/>
<line x1="395.2" y1="320.68" x2="397.5" y2="320.68" stroke="#3a3a3a" stroke-width="1.1"/>
<line x1="395.2" y1="284.52" x2="397.5" y2="284.52" stroke="#3a3a3a" stroke-width="1.1"/>
<text x="397.5" y="505.6" font-size="10.5" text-anchor="middle" >0</text>
<text x="437.13" y="505.6" font-size="10.5" text-anchor="middle" >5</text>
<text x="476.76" y="505.6" font-size="10.5" text-anchor="middle" >10</text>
<text x="516.39" y="505.6" font-size="10.5" text-anchor="middle" >15</text>
<text x="556.02" y="505.6" font-size="10.5" text-anchor="middle" >20</text>
<text x="595.65" y="505.6" font-size="10.5" text-anchor="middle" >25</text>
<text x="635.28" y="505.6" font-size="10.5" text-anchor="middle" >30</text>
<text x="674.91" y="505.6" font-size="10.5" text-anchor="middle" >35</text>
<text x="390.6" y="486.85" font-size="10.5" text-anchor="end" >0.0</text>
<text x="390.6" y="450.69" font-size="10.5" text-anchor="end" >0.1</text>
<text x="390.6" y="414.53" font-size="10.5" text-anchor="end" >0.2</text>
<text x="390.6" y="378.37" font-size="10.5" text-anchor="end" >0.3</text>
<text x="390.6" y="342.21" font-size="10.5" text-anchor="end" >0.4</text>
<text x="390.6" y="306.05" font-size="10.5" text-anchor="end" >0.5</text>
<polyline points="402.3,424.8 402.7,408.2 403,391.6 403,368.3 403.3,369.2 403.8,348.1 404.8,330.8 405.3,315.8 406.8,304.5 407.2,310.2 407.5,312 409.8,352.6 411,378.8 412.1,402.9 413.3,420.2 415.1,430.8 416.6,432.3 420.3,423.3 422.6,422.5 424.9,424.8 426.4,428.5 428.6,433 430.9,436.2 432.4,437.6 435.7,439.4 439.5,439.4 443.3,438.8 448,441.3 452.4,441.3 457.5,436.6 462.6,433.1 468.9,438.5 475.5,444.7 483.1,438.1 490.7,430.5 499.3,438.8 508.7,441.9 519.2,434.3 531.1,454.6 543.5,452.7 557,437.5 572.2,455.9 588.5,457.1 606.4,455 625.9,466.2 647.3,464.3 670.9,459.7" fill="none" stroke="#1a1ad0" stroke-width="1.1" stroke-linejoin="round"/>
<polygon points="402.3,422 405.05,426.67 399.55,426.67" fill="#0000c8"/>
<polygon points="402.7,405.39 405.45,410.07 399.95,410.07" fill="#0000c8"/>
<polygon points="403,388.8 405.75,393.47 400.25,393.47" fill="#0000c8"/>
<polygon points="403,365.5 405.75,370.17 400.25,370.17" fill="#0000c8"/>
<polygon points="403.3,366.39 406.05,371.07 400.55,371.07" fill="#0000c8"/>
<polygon points="403.8,345.3 406.55,349.97 401.05,349.97" fill="#0000c8"/>
<polygon points="404.8,328 407.55,332.67 402.05,332.67" fill="#0000c8"/>
<polygon points="405.3,313 408.05,317.67 402.55,317.67" fill="#0000c8"/>
<polygon points="406.8,301.69 409.55,306.37 404.05,306.37" fill="#0000c8"/>
<polygon points="407.2,307.39 409.95,312.07 404.45,312.07" fill="#0000c8"/>
<polygon points="407.5,309.19 410.25,313.87 404.75,313.87" fill="#0000c8"/>
<polygon points="409.8,349.8 412.55,354.47 407.05,354.47" fill="#0000c8"/>
<polygon points="411,376 413.75,380.67 408.25,380.67" fill="#0000c8"/>
<polygon points="412.1,400.09 414.85,404.77 409.35,404.77" fill="#0000c8"/>
<polygon points="413.3,417.39 416.05,422.07 410.55,422.07" fill="#0000c8"/>
<polygon points="415.1,428 417.85,432.67 412.35,432.67" fill="#0000c8"/>
<polygon points="416.6,429.5 419.35,434.17 413.85,434.17" fill="#0000c8"/>
<polygon points="420.3,420.5 423.05,425.17 417.55,425.17" fill="#0000c8"/>
<polygon points="422.6,419.69 425.35,424.37 419.85,424.37" fill="#0000c8"/>
<polygon points="424.9,422 427.65,426.67 422.15,426.67" fill="#0000c8"/>
<polygon points="426.4,425.69 429.15,430.37 423.65,430.37" fill="#0000c8"/>
<polygon points="428.6,430.19 431.35,434.87 425.85,434.87" fill="#0000c8"/>
<polygon points="430.9,433.39 433.65,438.07 428.15,438.07" fill="#0000c8"/>
<polygon points="432.4,434.8 435.15,439.47 429.65,439.47" fill="#0000c8"/>
<polygon points="435.7,436.59 438.45,441.27 432.95,441.27" fill="#0000c8"/>
<polygon points="439.5,436.59 442.25,441.27 436.75,441.27" fill="#0000c8"/>
<polygon points="443.3,436 446.05,440.67 440.55,440.67" fill="#0000c8"/>
<polygon points="448,438.5 450.75,443.17 445.25,443.17" fill="#0000c8"/>
<polygon points="452.4,438.5 455.15,443.17 449.65,443.17" fill="#0000c8"/>
<polygon points="457.5,433.8 460.25,438.47 454.75,438.47" fill="#0000c8"/>
<polygon points="462.6,430.3 465.35,434.97 459.85,434.97" fill="#0000c8"/>
<polygon points="468.9,435.69 471.65,440.37 466.15,440.37" fill="#0000c8"/>
<polygon points="475.5,441.89 478.25,446.57 472.75,446.57" fill="#0000c8"/>
<polygon points="483.1,435.3 485.85,439.97 480.35,439.97" fill="#0000c8"/>
<polygon points="490.7,427.69 493.45,432.37 487.95,432.37" fill="#0000c8"/>
<polygon points="499.3,436 502.05,440.67 496.55,440.67" fill="#0000c8"/>
<polygon points="508.7,439.09 511.45,443.77 505.95,443.77" fill="#0000c8"/>
<polygon points="519.2,431.5 521.95,436.17 516.45,436.17" fill="#0000c8"/>
<polygon points="531.1,451.8 533.85,456.47 528.35,456.47" fill="#0000c8"/>
<polygon points="543.5,449.89 546.25,454.57 540.75,454.57" fill="#0000c8"/>
<polygon points="557,434.69 559.75,439.37 554.25,439.37" fill="#0000c8"/>
<polygon points="572.2,453.09 574.95,457.77 569.45,457.77" fill="#0000c8"/>
<polygon points="588.5,454.3 591.25,458.97 585.75,458.97" fill="#0000c8"/>
<polygon points="606.4,452.19 609.15,456.87 603.65,456.87" fill="#0000c8"/>
<polygon points="625.9,463.39 628.65,468.07 623.15,468.07" fill="#0000c8"/>
<polygon points="647.3,461.5 650.05,466.17 644.55,466.17" fill="#0000c8"/>
<polygon points="670.9,456.89 673.65,461.57 668.15,461.57" fill="#0000c8"/>
<polyline points="402.3,418 402.7,405.9 403,391.6 403.3,378.1 403.8,363.2 403.8,377.4 404.5,351.9 405.3,341.4 406.3,333.8 408.3,324.1 409,326.3 410.2,328.6 410.8,340.6 411.6,360.9 412.1,360.8 413.6,385.9 414.8,411.5 415.8,427.8 418.1,429.6 420.3,421 422.3,407 424.4,396.4 427.1,398.4 429.8,405.2 432.8,412.7 436.1,418.5 439.1,422.9 443.3,428 447.5,440 452.4,447 457.5,447 463.2,447.6 468.9,454.6 475.5,460.3 483.1,459 490.7,456.1 499.3,462.2 508.7,465.6 519.2,462.8 531.1,472.2 543.5,471.7 557,465 572.2,473.6 588.5,473.2 606.4,472 625.9,477.4 647.3,477.4 670.9,475.8" fill="none" stroke="#111" stroke-width="1.1" stroke-linejoin="round"/>
<circle cx="402.3" cy="418" r="2.35" fill="#000"/>
<circle cx="402.7" cy="405.9" r="2.35" fill="#000"/>
<circle cx="403" cy="391.6" r="2.35" fill="#000"/>
<circle cx="403.3" cy="378.1" r="2.35" fill="#000"/>
<circle cx="403.8" cy="363.2" r="2.35" fill="#000"/>
<circle cx="403.8" cy="377.4" r="2.35" fill="#000"/>
<circle cx="404.5" cy="351.9" r="2.35" fill="#000"/>
<circle cx="405.3" cy="341.4" r="2.35" fill="#000"/>
<circle cx="406.3" cy="333.8" r="2.35" fill="#000"/>
<circle cx="408.3" cy="324.1" r="2.35" fill="#000"/>
<circle cx="409" cy="326.3" r="2.35" fill="#000"/>
<circle cx="410.2" cy="328.6" r="2.35" fill="#000"/>
<circle cx="410.8" cy="340.6" r="2.35" fill="#000"/>
<circle cx="411.6" cy="360.9" r="2.35" fill="#000"/>
<circle cx="412.1" cy="360.8" r="2.35" fill="#000"/>
<circle cx="413.6" cy="385.9" r="2.35" fill="#000"/>
<circle cx="414.8" cy="411.5" r="2.35" fill="#000"/>
<circle cx="415.8" cy="427.8" r="2.35" fill="#000"/>
<circle cx="418.1" cy="429.6" r="2.35" fill="#000"/>
<circle cx="420.3" cy="421" r="2.35" fill="#000"/>
<circle cx="422.3" cy="407" r="2.35" fill="#000"/>
<circle cx="424.4" cy="396.4" r="2.35" fill="#000"/>
<circle cx="427.1" cy="398.4" r="2.35" fill="#000"/>
<circle cx="429.8" cy="405.2" r="2.35" fill="#000"/>
<circle cx="432.8" cy="412.7" r="2.35" fill="#000"/>
<circle cx="436.1" cy="418.5" r="2.35" fill="#000"/>
<circle cx="439.1" cy="422.9" r="2.35" fill="#000"/>
<circle cx="443.3" cy="428" r="2.35" fill="#000"/>
<circle cx="447.5" cy="440" r="2.35" fill="#000"/>
<circle cx="452.4" cy="447" r="2.35" fill="#000"/>
<circle cx="457.5" cy="447" r="2.35" fill="#000"/>
<circle cx="463.2" cy="447.6" r="2.35" fill="#000"/>
<circle cx="468.9" cy="454.6" r="2.35" fill="#000"/>
<circle cx="475.5" cy="460.3" r="2.35" fill="#000"/>
<circle cx="483.1" cy="459" r="2.35" fill="#000"/>
<circle cx="490.7" cy="456.1" r="2.35" fill="#000"/>
<circle cx="499.3" cy="462.2" r="2.35" fill="#000"/>
<circle cx="508.7" cy="465.6" r="2.35" fill="#000"/>
<circle cx="519.2" cy="462.8" r="2.35" fill="#000"/>
<circle cx="531.1" cy="472.2" r="2.35" fill="#000"/>
<circle cx="543.5" cy="471.7" r="2.35" fill="#000"/>
<circle cx="557" cy="465" r="2.35" fill="#000"/>
<circle cx="572.2" cy="473.6" r="2.35" fill="#000"/>
<circle cx="588.5" cy="473.2" r="2.35" fill="#000"/>
<circle cx="606.4" cy="472" r="2.35" fill="#000"/>
<circle cx="625.9" cy="477.4" r="2.35" fill="#000"/>
<circle cx="647.3" cy="477.4" r="2.35" fill="#000"/>
<circle cx="670.9" cy="475.8" r="2.35" fill="#000"/>
<line x1="593.5" y1="381.7" x2="615.8" y2="381.7" stroke="#2424c4" stroke-width="1.35"/>
<polygon points="604.65,378.95 607.35,383.54 601.95,383.54" fill="#0000c8"/>
<text x="618.8" y="385.4" font-size="10.4" text-anchor="start" >MOA</text>
<line x1="593.5" y1="394.6" x2="615.8" y2="394.6" stroke="#222" stroke-width="1.35"/>
<circle cx="604.65" cy="394.6" r="2.3" fill="#000"/>
<text x="618.8" y="398.3" font-size="10.4" text-anchor="start" >MOA-C</text>
<text x="536.2" y="524.7" font-size="11.3" text-anchor="middle" >Pore width (nm)</text>
<text transform="translate(361.0,390.9) rotate(-90)" font-size="11.45" text-anchor="middle">dV(d) (cc/nm/g)</text>
<text x="358.3" y="279.7" font-size="16.5" text-anchor="start" >d)</text>
</svg>
</body></html>
